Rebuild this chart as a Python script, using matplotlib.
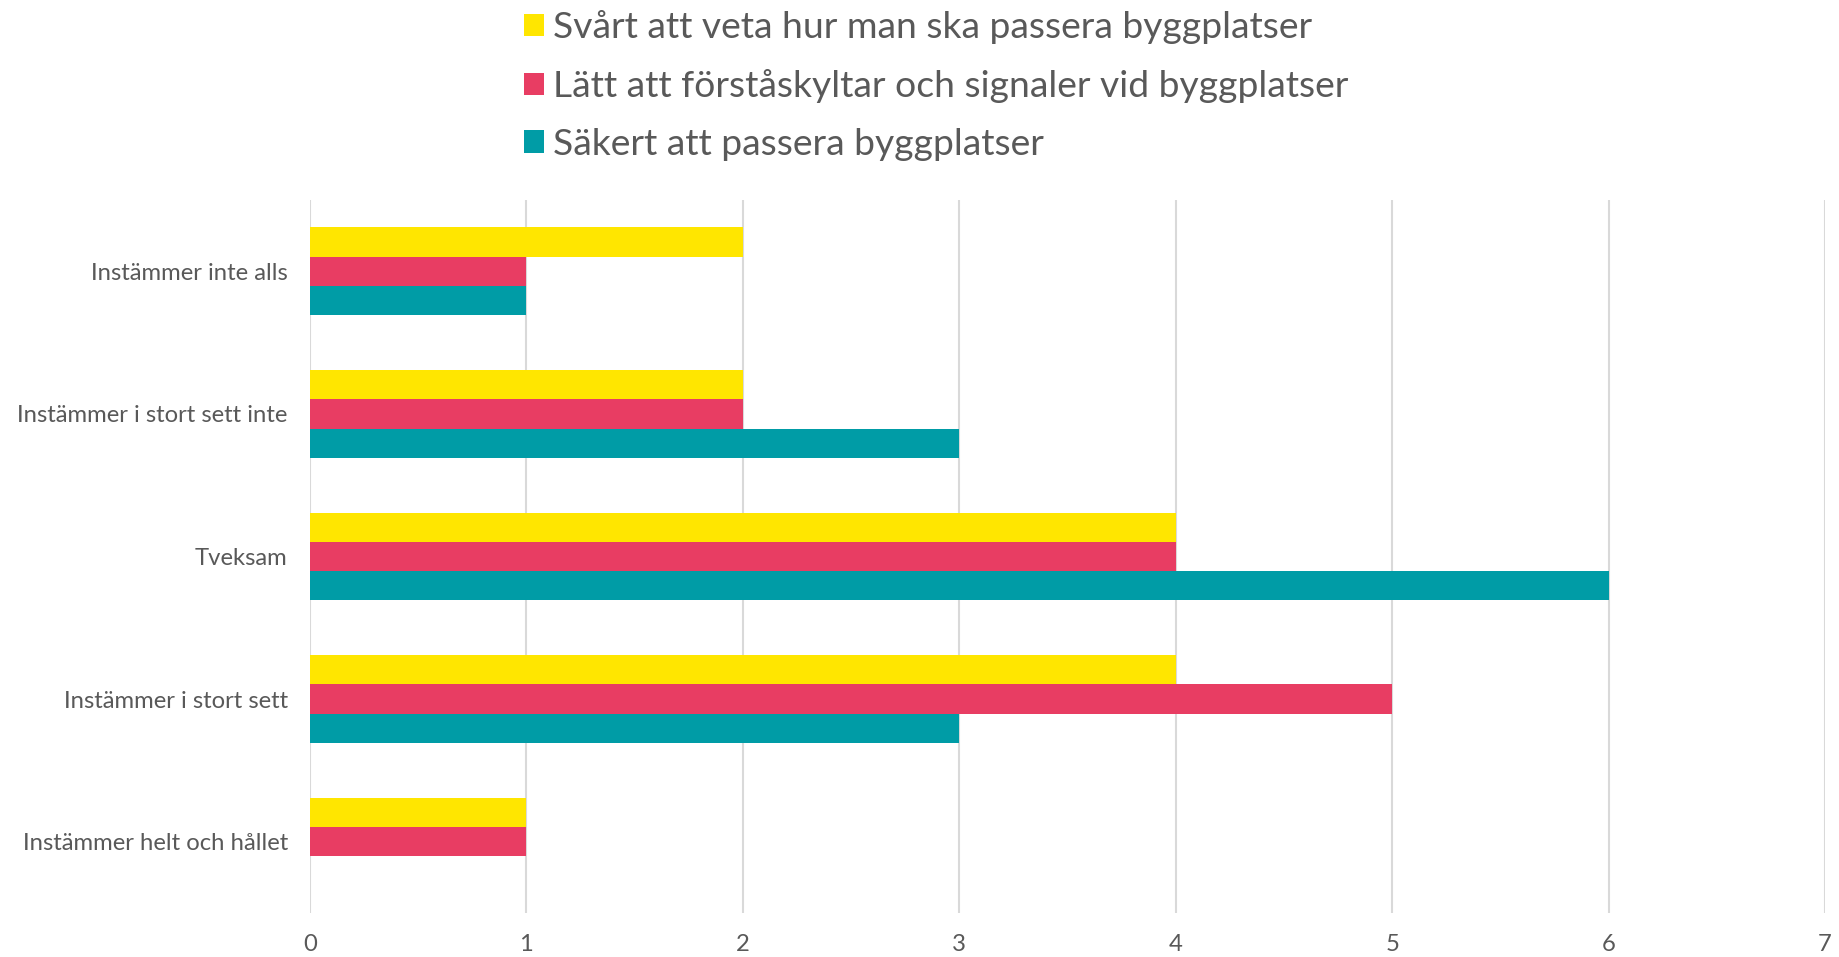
import matplotlib
matplotlib.use("Agg")
import matplotlib.pyplot as plt
import numpy as np

plt.rcParams['font.family'] = ['Lato', 'DejaVu Sans']

categories = ["Instämmer inte alls", "Instämmer i stort sett inte", "Tveksam",
              "Instämmer i stort sett", "Instämmer helt och hållet"]
series_names = ["Svårt att veta hur man ska passera byggplatser",
                "Lätt att förståskyltar och signaler vid byggplatser",
                "Säkert att passera byggplatser"]
svart = [2, 2, 4, 4, 1]
latt = [1, 2, 4, 5, 1]
sakert = [1, 3, 6, 3, 0]
colors = ["#FFE600", "#E83D63", "#009CA6"]
xticks = [0, 1, 2, 3, 4, 5, 6, 7]

fig = plt.figure(figsize=(18.4, 9.57), dpi=100)
ax = fig.add_axes([310/1840, 1-913/957, (1825-310)/1840, (913-200)/957])

y = np.arange(len(categories))
h = 0.205
handles = []
for i, (vals, name, c) in enumerate(zip([svart, latt, sakert], series_names, colors)):
    b = ax.barh(y + (i - 1) * h, vals, height=h, color=c, label=name, zorder=3)
    handles.append(b)

ax.set_ylim(len(categories) - 0.5, -0.5)
ax.set_xlim(0, 7)
ax.set_xticks(xticks)
ax.set_yticks(y)
ax.set_yticklabels(categories)
ax.grid(axis='x', color='#D9D9D9', linewidth=1.5, zorder=0)
for s in ax.spines.values():
    s.set_visible(False)
ax.tick_params(axis='both', length=0, colors='#595959', labelsize=17.2)
ax.tick_params(axis='x', pad=15)
ax.tick_params(axis='y', pad=16)
for t in ax.get_xticklabels() + ax.get_yticklabels():
    t.set_color('#595959')

leg = fig.legend(handles=handles, labels=series_names, loc='upper left',
                 bbox_to_anchor=(505/1840, 1.009), frameon=False, fontsize=26.8,
                 handlelength=0.55, handleheight=0.55, handletextpad=0.25,
                 labelspacing=0.67, borderpad=0)
for t in leg.get_texts():
    t.set_color('#595959')

fig.savefig("out.png", dpi=100)
